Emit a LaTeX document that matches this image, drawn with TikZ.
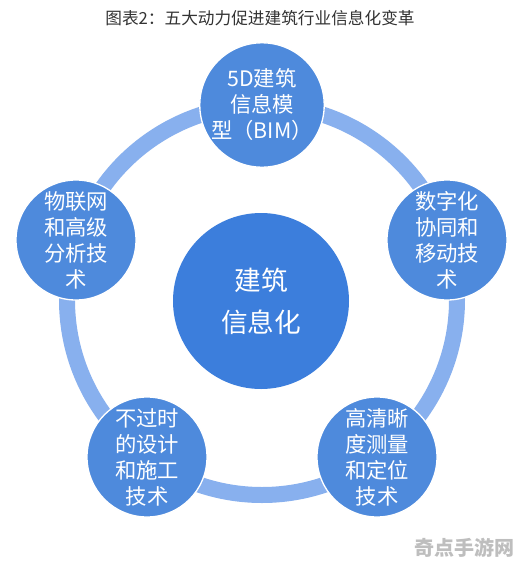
\documentclass[tikz,border=0pt]{standalone}
\usepackage{fontspec}
\newfontfamily\cjk{Noto Sans CJK SC}
\usetikzlibrary{positioning}
\definecolor{ringblue}{RGB}{136,176,238}
\definecolor{ballblue}{RGB}{78,138,220}
\definecolor{hubblue}{RGB}{60,126,220}
\definecolor{titlegray}{RGB}{51,51,51}
\definecolor{markgray}{RGB}{190,190,190}

\begin{document}
\begin{tikzpicture}[
  x=0.75pt, y=-0.75pt, font=\cjk,
  ring/.style={draw=ringblue, line width=12pt},
  ball/.style={circle, minimum size=90pt, inner sep=0pt, fill=ballblue, draw=white, line width=1pt,
    text=white, align=center, font=\cjk\fontsize{16}{19.5}\selectfont},
  hub/.style={circle, minimum size=132pt, inner sep=0pt, fill=hubblue,
    text=white, align=center, font=\cjk\fontsize{20}{31.5}\selectfont}
]
\useasboundingbox[fill=white] (0,0) rectangle (521,568);

\node[text=titlegray, font=\cjk\fontsize{12.5}{15}\selectfont] (title) at (260,18) {图表2：五大动力促进建筑行业信息化变革};

% ring through the five drivers
\coordinate (ctr) at (262,300);
\draw[ring] (ctr) circle (146.25pt);

\node[hub] (hub) at (261,301) {建筑\\信息化};

\node[ball] (bim) at (262,105) {5D建筑\\信息模\\型（BIM）};
\node[ball] (mobile) at (447,240) {数字化\\协同和\\移动技\\术};
\node[ball] (survey) at (377,457) {高清晰\\度测量\\和定位\\技术};
\node[ball] (build) at (147,457) {不过时\\的设计\\和施工\\技术};
\node[ball] (iot) at (76,240) {物联网\\和高级\\分析技\\术};

\node[text=markgray, font=\cjk\bfseries\fontsize{15}{18}\selectfont] (mark) at (464,548) {奇点手游网};
\end{tikzpicture}
\end{document}
